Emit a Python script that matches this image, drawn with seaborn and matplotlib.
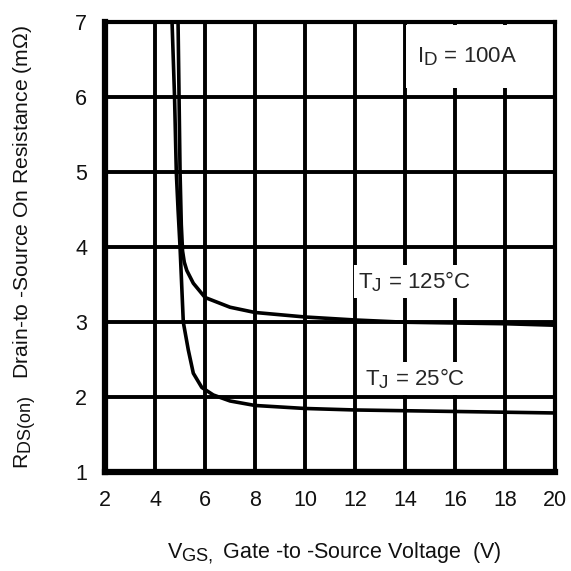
import matplotlib
matplotlib.use("Agg")
import matplotlib.pyplot as plt
import matplotlib._mathtext as _mt
from matplotlib.patches import Rectangle
import seaborn as sns
import pandas as pd

# Gate voltage (V) and on-resistance (mOhm) at two junction temperatures
vgs_25 = [4.68, 4.78, 4.85, 4.92, 5.0, 5.13, 5.33, 5.53, 5.87, 6.33, 7.0, 8.0, 10.0, 12.0, 14.0, 16.0, 18.0, 20.0]
rds_25 = [7.0, 6.0, 5.0, 4.5, 4.0, 3.0, 2.63, 2.32, 2.13, 2.03, 1.95, 1.89, 1.85, 1.83, 1.82, 1.81, 1.80, 1.79]

vgs_125 = [4.92, 4.96, 5.0, 5.05, 5.1, 5.17, 5.27, 5.53, 6.0, 7.0, 8.0, 10.0, 12.0, 14.0, 16.0, 18.0, 20.0]
rds_125 = [7.0, 6.0, 5.0, 4.3, 3.95, 3.8, 3.69, 3.52, 3.33, 3.2, 3.13, 3.07, 3.03, 3.0, 2.99, 2.98, 2.96]

x_ticks = [2, 4, 6, 8, 10, 12, 14, 16, 18, 20]
y_ticks = [1, 2, 3, 4, 5, 6, 7]

df = pd.concat([
    pd.DataFrame({"vgs": vgs_25, "rds": rds_25, "tj": "25"}),
    pd.DataFrame({"vgs": vgs_125, "rds": rds_125, "tj": "125"}),
])

# larger subscripts, datasheet style
_mt.SHRINK_FACTOR = 0.85

sns.set_style("white")
plt.rcParams["font.family"] = ["Liberation Sans", "DejaVu Sans"]
plt.rcParams["mathtext.fontset"] = "custom"
plt.rcParams["mathtext.rm"] = "Liberation Sans"
plt.rcParams["mathtext.it"] = "Liberation Sans"
plt.rcParams["mathtext.default"] = "regular"

fig = plt.figure(figsize=(5.71, 5.71), dpi=100)
ax = fig.add_axes([0.184, 0.173, 0.788, 0.788])

sns.lineplot(data=df, x="vgs", y="rds", hue="tj", palette=["black", "black"],
             estimator=None, sort=False, linewidth=2.6, legend=False, ax=ax, zorder=4)

ax.set_xlim(2, 20)
ax.set_ylim(1, 7)
ax.set_xticks(x_ticks)
ax.set_yticks(y_ticks)
ax.grid(True, color="black", linewidth=2.8)
ax.set_axisbelow(True)
for s in ax.spines.values():
    s.set_color("black")
    s.set_linewidth(3)
ax.spines["left"].set_linewidth(4.5)
ax.spines["bottom"].set_linewidth(4.5)
ax.tick_params(length=0, labelsize=15.5, pad=13, labelcolor="#111111")

ax.set_xlabel(r"$V_{GS,}$ Gate -to -Source Voltage  (V)", fontsize=15.5, color="#111111")
ax.xaxis.set_label_coords(0.509, -0.152)
ax.set_ylabel(r"$R_{DS(on)}$   Drain-to -Source On Resistance (m$\Omega$)", fontsize=15.2, color="#111111")
ax.yaxis.set_label_coords(-0.15, 0.5)

# white panel behind the drain-current note
ax.add_patch(Rectangle((14.04, 6.13), 5.9, 0.83, facecolor="white", edgecolor="none", zorder=1))
ax.text(14.48, 6.47, r"$I_D$ = 100A", fontsize=16, va="baseline", ha="left", zorder=5)

box = dict(facecolor="white", edgecolor="none", pad=3)
ax.text(12.12, 3.45, r"$T_J$ = 125°C", fontsize=16, va="baseline", ha="left", bbox=box, zorder=5)
ax.text(12.4, 2.16, r"$T_J$ = 25°C", fontsize=16, va="baseline", ha="left", bbox=box, zorder=5)

fig.savefig("out.png", dpi=100, facecolor="white")
